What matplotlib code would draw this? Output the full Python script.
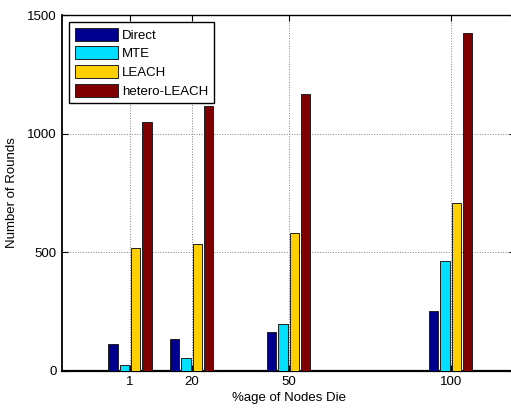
import numpy as np
import matplotlib
matplotlib.use("Agg")
import matplotlib.pyplot as plt

plt.rcParams['font.family'] = ['Liberation Sans', 'DejaVu Sans']

# data
pct_die = [1, 20, 50, 100]
direct = [111, 132, 162, 252]
mte = [23, 52, 198, 461]
leach = [518, 533, 579, 707]
hetero = [1049, 1115, 1169, 1423]
names = ['Direct', 'MTE', 'LEACH', 'hetero-LEACH']
colors = ['#00008F', '#00DFFF', '#FFCF00', '#800000']

fig = plt.figure(figsize=(5.11, 4.08), dpi=100)
ax = fig.add_axes([0.1213, 0.0914, 0.8873, 0.8716])

x = np.array(pct_die)
step = 3.5
w = 2.9
series = [direct, mte, leach, hetero]
for i, vals in enumerate(series):
    ax.bar(x + (i - 1.5) * step, vals, width=w, color=colors[i],
           edgecolor='#202020', linewidth=0.7, label=names[i], zorder=3)

ax.set_xlim(-20, 120)
ax.set_ylim(0, 1500)
ax.set_xticks(pct_die)
ax.set_yticks([0, 500, 1000, 1500])
ax.grid(True, linestyle=':', color='#808080', linewidth=0.7, zorder=0)
ax.tick_params(direction='in', top=True, right=True, labelsize=9.5, length=4, pad=4)
for s in ax.spines.values():
    s.set_linewidth(1.0)
ax.spines['bottom'].set_linewidth(1.6)
ax.spines['left'].set_linewidth(1.3)

ax.set_xlabel('%age of Nodes Die', fontsize=9.5, labelpad=3)
ax.set_ylabel('Number of Rounds', fontsize=9.5, labelpad=6)

leg = ax.legend(loc='upper left', fontsize=9.5, handlelength=3.3, handleheight=1.15,
                labelspacing=0.35, borderpad=0.45, handletextpad=0.3,
                fancybox=False, framealpha=1, edgecolor='black',
                bbox_to_anchor=(0.0, 1.0), borderaxespad=0.5)
leg.get_frame().set_linewidth(1.0)

fig.savefig('out.png', dpi=100)
